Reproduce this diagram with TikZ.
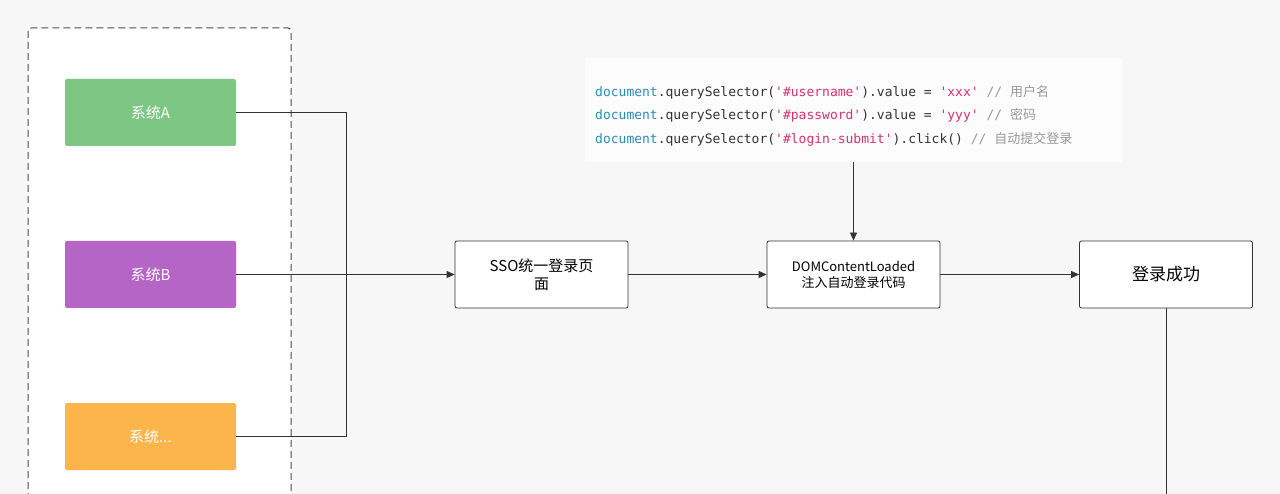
\documentclass[tikz,border=0pt]{standalone}
\usepackage{fontspec}
\setmainfont{Noto Sans CJK SC}
\newfontfamily\codefont{DejaVu Sans Mono}
\newfontfamily\cjk{Noto Sans CJK SC}
\usetikzlibrary{arrows.meta}
\definecolor{bg}{HTML}{F7F7F7}
\definecolor{cgreen}{HTML}{7EC683}
\definecolor{cpurple}{HTML}{B565C6}
\definecolor{corange}{HTML}{FBB54B}
\definecolor{ckw}{HTML}{2A8FB5}
\definecolor{cstr}{HTML}{D6336C}
\definecolor{ccom}{HTML}{999999}
\definecolor{ctext}{HTML}{333333}
\begin{document}
\begin{tikzpicture}[x=1pt,y=-1pt,
  sys/.style={draw=none,rounded corners=2pt,minimum width=171pt,minimum height=67pt,text=white,font=\fontsize{15}{18}\selectfont,inner sep=0pt},
  proc/.style={draw=black!80,line width=0.8pt,rounded corners=2pt,minimum width=173pt,minimum height=67pt,fill=white,align=center,font=\fontsize{15}{18}\selectfont,inner sep=2pt},
  conn/.style={draw=black!80,line width=0.8pt},
  arr/.style={conn,-{Triangle[length=8pt,width=7pt]}},
  code/.style={font=\codefont\fontsize{13}{15}\selectfont,anchor=west,inner sep=0pt}]
\useasboundingbox (0,0) rectangle (1280,494);
\fill[bg] (0,0) rectangle (1280,494);
\fill[white] (28,28) rectangle (291,500);
\draw[black!70,line width=1pt,dash pattern=on 7pt off 4pt,rounded corners=3pt] (28,500) -- (28,28) -- (291,28) -- (291,500);
\node[sys,fill=cgreen] (a) at (150.5,112.5) {系统A};
\node[sys,fill=cpurple] (b) at (150.5,274.5) {系统B};
\node[sys,fill=corange] (c) at (150.5,436.5) {系统...};
\node[proc] (sso) at (541.5,274.5) {SSO统一登录页\\面};
\node[proc,font=\fontsize{13}{16}\selectfont] (dom) at (853.5,274.5) {DOMContentLoaded\\注入自动登录代码};
\node[proc,font=\fontsize{17}{20}\selectfont] (ok) at (1166,274.5) {登录成功};
\fill[white!60!bg] (585,58) rectangle (1122,162);
\node[draw=none,minimum width=537pt,minimum height=104pt,inner sep=0pt] (codebox) at (853.5,110) {};
\node[code] at (595,92) {\textcolor{ckw}{document}\textcolor{ctext}{.querySelector(}\textcolor{cstr}{'\#username'}\textcolor{ctext}{).value = }\textcolor{cstr}{'xxx'} \textcolor{ccom}{// {\cjk 用户名}}};
\node[code] at (595,115.5) {\textcolor{ckw}{document}\textcolor{ctext}{.querySelector(}\textcolor{cstr}{'\#password'}\textcolor{ctext}{).value = }\textcolor{cstr}{'yyy'} \textcolor{ccom}{// {\cjk 密码}}};
\node[code] at (595,139) {\textcolor{ckw}{document}\textcolor{ctext}{.querySelector(}\textcolor{cstr}{'\#login-submit'}\textcolor{ctext}{).click() }\textcolor{ccom}{// {\cjk 自动提交登录}}};
\coordinate (j) at (346,274.5);
\coordinate (down) at (1166,494);
\draw[conn] (a.east) -| (j);
\draw[conn] (c.east) -| (j);
\draw[arr] (b.east) -- (sso.west);
\draw[arr] (sso.east) -- (dom.west);
\draw[arr] (dom.east) -- (ok.west);
\draw[arr] (codebox.south) -- (dom.north);
\draw[conn] (ok.south) -- (down);
\end{tikzpicture}
\end{document}
